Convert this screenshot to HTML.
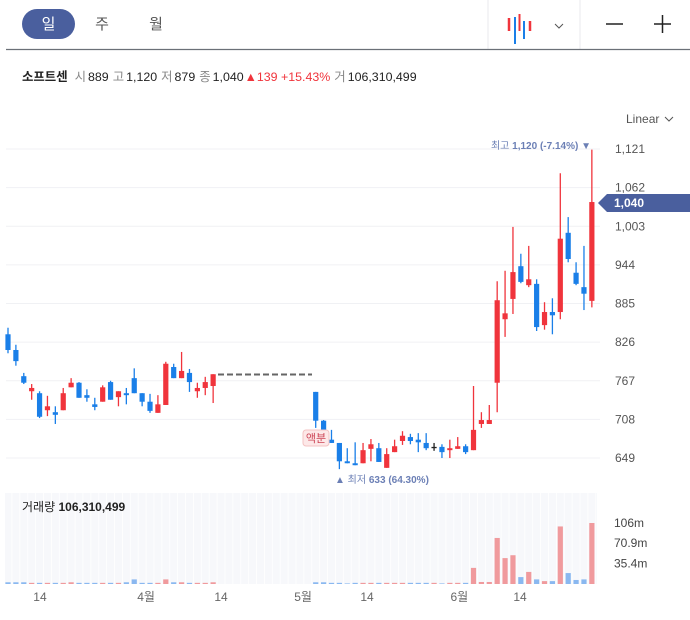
<!DOCTYPE html>
<html><head><meta charset="utf-8"><style>
body{margin:0;width:690px;height:620px;background:#fff;overflow:hidden;font-family:"Liberation Sans","Noto Sans CJK KR",sans-serif;}
svg{position:absolute;left:0;top:0}
</style></head><body>
<svg id="c" width="690" height="620" xmlns="http://www.w3.org/2000/svg">
<g>
<rect x="22" y="9" width="53" height="30" rx="15" fill="#4a5f9e"/>
<text x="48.5" y="29" font-size="15" fill="#fff" text-anchor="middle">일</text>
<text x="102" y="29" font-size="15" fill="#555" text-anchor="middle">주</text>
<text x="156" y="29" font-size="15" fill="#555" text-anchor="middle">월</text>
<line x1="488" y1="0" x2="488" y2="49" stroke="#e8e8ec"/>
<line x1="580" y1="0" x2="580" y2="49" stroke="#e8e8ec"/>
<g>
<line x1="509" y1="18" x2="509" y2="31" stroke="#f0343c" stroke-width="2.5"/>
<line x1="515" y1="17" x2="515" y2="44" stroke="#1a7fe8" stroke-width="2"/>
<line x1="519.5" y1="14" x2="519.5" y2="31" stroke="#f0343c" stroke-width="2"/>
<line x1="524" y1="21" x2="524" y2="39" stroke="#1a7fe8" stroke-width="2"/>
<line x1="530" y1="21" x2="530" y2="31" stroke="#f0343c" stroke-width="2.5"/>
</g>
<path d="M555 24 L559 28 L563 24" fill="none" stroke="#555" stroke-width="1"/>
<line x1="606" y1="24" x2="623" y2="24" stroke="#222" stroke-width="1.5"/>
<g><line x1="654" y1="24" x2="671" y2="24" stroke="#222" stroke-width="1.5"/><line x1="662.5" y1="15" x2="662.5" y2="33" stroke="#222" stroke-width="1.5"/></g>
<line x1="6" y1="49.5" x2="690" y2="49.5" stroke="#6b7077" stroke-width="1.2"/>
</g>
<text x="22" y="81" font-size="12.4" fill="#222"><tspan font-weight="bold">소프트센</tspan><tspan fill="#888" dx="7">시</tspan><tspan dx="2">889</tspan><tspan fill="#888" dx="4">고</tspan><tspan dx="2">1,120</tspan><tspan fill="#888" dx="4">저</tspan><tspan dx="2">879</tspan><tspan fill="#888" dx="4">종</tspan><tspan dx="2">1,040</tspan><tspan fill="#f0343c" dx="1">▲139 +15.43%</tspan><tspan fill="#888" dx="4">거</tspan><tspan dx="2">106,310,499</tspan></text>
<text x="626" y="123" font-size="12" fill="#555">Linear</text>
<path d="M665 117 L669 121 L673 117" fill="none" stroke="#555"/>
<g id="grid"></g><g id="vol"></g><g id="cand"></g>
<line x1="218" y1="374.5" x2="312" y2="374.5" stroke="#666" stroke-width="2" stroke-dasharray="6,3"/>
<text x="591" y="149" font-size="10" fill="#6b7fb5" text-anchor="end">최고 <tspan font-weight="bold">1,120 (-7.14%)</tspan> ▼</text>
<text x="335" y="483" font-size="10" fill="#6b7fb5">▲ 최저 <tspan font-weight="bold">633 (64.30%)</tspan></text>
<rect x="303" y="430" width="26" height="16" rx="3" fill="#fde8e8" stroke="#f3c3c3"/>
<text x="316" y="442" font-size="11" fill="#c45" text-anchor="middle">액분</text>
<path d="M598 203 L607 194 L690 194 L690 212 L607 212 Z" fill="#4a5f9e"/>
<text x="614" y="207" font-size="12" font-weight="bold" fill="#fff">1,040</text>
<text x="22" y="511" font-size="12" fill="#222">거래량 <tspan font-weight="bold">106,310,499</tspan></text>
<g id="xl"></g>
</svg>
<script>
const opens =[838,814,774,751,748,722,719,722,757,764,745,731,735,765,742,748,771,748,735,718,730,788,771,779,751,756,759,null,null,null,null,null,null,null,null,null,null,null,null,750,706,677,672,644,641,641,663,664,634,658,675,681,677,672,666,666,661,663,667,661,701,701,764,861,892,942,913,915,852,872,872,993,932,910,889];
const highs =[848,822,779,762,751,744,728,756,771,765,754,741,760,767,751,756,786,748,747,745,796,793,811,785,764,773,777,null,null,null,null,null,null,null,null,null,null,null,null,750,707,692,672,664,673,672,678,672,664,677,690,686,687,687,672,670,677,681,670,759,719,730,919,935,1002,961,973,922,887,893,1084,1017,948,973,1120];
const lows  =[809,790,762,738,710,713,701,722,757,741,735,722,735,738,728,731,748,728,718,718,730,771,771,750,741,745,733,null,null,null,null,null,null,null,null,null,null,null,null,695,690,672,632,641,638,641,644,643,634,658,669,670,658,661,660,649,649,663,655,661,695,701,719,834,869,916,910,843,845,838,861,948,913,875,879];
const closes=[814,797,764,756,712,728,715,748,764,741,741,727,757,738,751,745,748,735,721,731,793,771,782,765,756,765,777,null,null,null,null,null,null,null,null,null,null,null,null,706,690,672,644,641,638,661,670,643,655,667,683,675,673,664,666,658,664,667,658,692,707,707,890,870,933,918,922,849,872,867,984,953,915,900,1040];
const volumes=[3,3,3,2,2,2,2,2,3,2,2,2,2,2,2,3,8,2,2,2,8,3,3,2,2,2,3,null,null,null,null,null,null,null,null,null,null,null,null,3,3,2,2,1,2,2,2,2,2,2,2,2,2,2,2,1,2,2,2,28,3.5,3.5,80,45,50,12,21,8,5,5,100,19,7,8,106];
const priceTicks=[1121,1062,1003,944,885,826,767,708,649];
const priceTickLabels=["1,121","1,062","1,003","944","885","826","767","708","649"];
const volTicks=[106,70.9,35.4];
const volTickLabels=["106m","70.9m","35.4m"];
const xLabelIdx=[4.05,17.5,27,37.4,45.5,57.2,64.9];
const xLabels=["14","4월","14","5월","14","6월","14"];

const NS="http://www.w3.org/2000/svg";
const X=i=>8+i*7.89;
const Y=v=>149+(1121-v)*0.6547;
const VY=m=>584-m*0.5755;
function mk(t,a,p){const e=document.createElementNS(NS,t);for(const k in a)e.setAttribute(k,a[k]);p.appendChild(e);return e;}
const grid=document.getElementById('grid'),vol=document.getElementById('vol'),cand=document.getElementById('cand'),xl=document.getElementById('xl');
priceTicks.forEach((v,i)=>{
 const l=mk('line',{x1:6,x2:600,y1:Y(v),y2:Y(v),stroke:'#f0f1f4'},grid);
 
 
 const t=mk('text',{x:615,y:Y(v)+4,'font-size':12,fill:'#555'},grid);t.textContent=priceTickLabels[i];
 
 
});
mk('rect',{x:5,y:493,width:592,height:91,fill:'#f7f8fb'},vol);
for(let i=0;i<opens.length;i++){
 const s=mk('line',{x1:X(i)+3.95,x2:X(i)+3.95,y1:493,y2:584,stroke:'#fff','stroke-width':0.8},vol);
 
 
}
volTicks.forEach((m,i)=>{const t=mk('text',{x:614,y:VY(m)+4,'font-size':12,fill:'#444'},vol);t.textContent=volTickLabels[i];
 
 });
for(let i=0;i<opens.length;i++){
 if(opens[i]==null)continue;
 const up=closes[i]>opens[i],dj=closes[i]===opens[i];
 const col=dj?'#222':(up?'#f0343c':'#1a7fe8');
 const x=X(i);
 const w=mk('line',{x1:x,x2:x,y1:Y(highs[i]),y2:Y(lows[i]),stroke:col,'stroke-width':1.3},cand);
 
 
 const t=Y(Math.max(opens[i],closes[i])),b=Y(Math.min(opens[i],closes[i]));
 const r=mk('rect',{x:x-2.6,y:t,width:5.2,height:Math.max(b-t,1.3),fill:col},cand);
 
 
 const vc=dj?'#f09a9d':(up?'#f09a9d':'#8ab8f0');
 const vb=mk('rect',{x:x-2.6,y:VY(volumes[i]),width:5.2,height:584-VY(volumes[i]),fill:vc},vol);
 
 
}
xLabelIdx.forEach((k,i)=>{const t=mk('text',{x:X(k),y:601,'font-size':12,fill:'#666','text-anchor':'middle'},xl);t.textContent=xLabels[i];
 
 });
</script>
</body></html>
